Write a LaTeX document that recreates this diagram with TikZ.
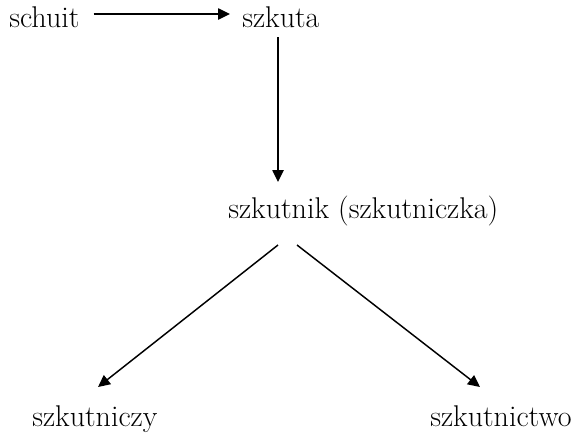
\documentclass[tikz,border=0pt]{standalone}
\usetikzlibrary{arrows.meta,calc}
\begin{document}
\begin{tikzpicture}[x=0.75pt,y=-0.75pt,
  word/.style={inner sep=0pt,anchor=base west,font=\fontsize{22.5}{26}\selectfont},
  arr/.style={line width=1.1pt,-{Triangle[length=9pt,width=8.5pt]}}]
\useasboundingbox (0,0) rectangle (577,433);
% words
\node[word] (schuit)  at (9,27)    {schuit};
\node[word] (szkuta)  at (242,27)  {szkuta};
\node[word] (szkutnik) at (228,218) {szkutnik (szkutniczka)};
\node[word] (szkutniczy) at (32,426) {szkutniczy};
\node[word] (szkutnictwo) at (430,426) {szkutnictwo};
% derivation arrows
\draw[arr] ($(schuit.base east)+(14,-13)$) -- ($(szkuta.base west)+(-12,-13)$);
\draw[arr] ($(szkuta.base west)+(36,10)$) -- ($(szkutnik.base west)+(50,-36)$);
\draw[arr] ($(szkutnik.base west)+(50,27)$) -- ($(szkutniczy.base west)+(66,-39)$);
\draw[arr] ($(szkutnik.base west)+(69,27)$) -- ($(szkutnictwo.base west)+(50,-39)$);
\end{tikzpicture}
\end{document}
